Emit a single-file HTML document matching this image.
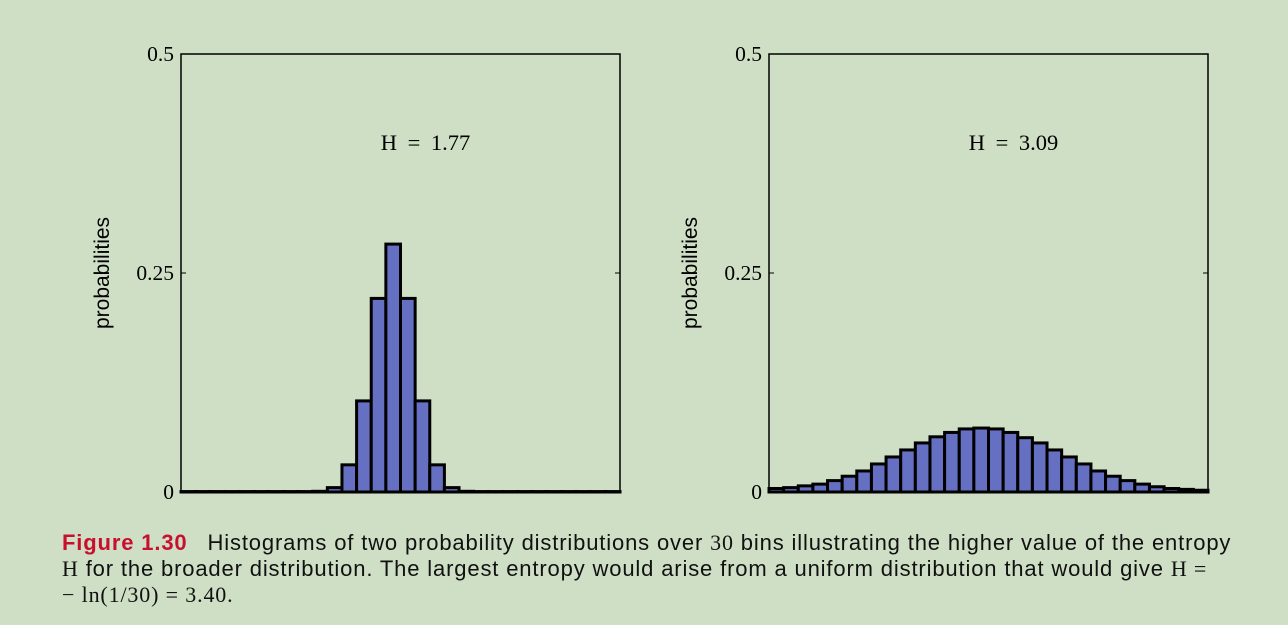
<!DOCTYPE html>
<html><head><meta charset="utf-8">
<style>
body{margin:0;background:#cfdfc5;width:1288px;height:625px;overflow:hidden;}
svg{position:absolute;left:0;top:0;}
.cap{position:absolute;left:62px;top:530px;white-space:nowrap;font-family:"Liberation Sans",sans-serif;font-size:22px;letter-spacing:0.85px;line-height:26px;color:#111;}
.cap b{color:#c8102e;margin-right:20px;}
.m{font-family:"Liberation Serif",serif;font-size:22px;}
</style></head><body>
<svg id="chart" width="1288" height="625"></svg>
<div class="cap"><b>Figure 1.30</b>Histograms of two probability distributions over <span class="m">30</span> bins illustrating the higher value of the entropy<br><span class="m">H</span> for the broader distribution. The largest entropy would arise from a uniform distribution that would give <span class="m">H =</span><br><span class="m">− ln(1/30) = 3.40.</span></div>
<script>
const leftValues=[0.0005,0.0005,0.0005,0.0005,0.0005,0.0005,0.0005,0.0005,0.0005,0.0008,0.005,0.031,0.104,0.221,0.283,0.221,0.104,0.031,0.005,0.0008,0.0005,0.0005,0.0005,0.0005,0.0005,0.0005,0.0005,0.0005,0.0005,0.0005];
const rightValues=[0.004,0.005,0.007,0.009,0.013,0.018,0.024,0.032,0.040,0.048,0.056,0.063,0.068,0.072,0.073,0.072,0.068,0.062,0.056,0.048,0.040,0.032,0.024,0.018,0.013,0.009,0.006,0.004,0.003,0.002];
const yTicks=[0,0.25,0.5];
const yTickLabels=["0","0.25","0.5"];
const entropyLabels=["H = 1.77","H = 3.09"];
const NS="http://www.w3.org/2000/svg";
const svg=document.getElementById('chart');
function mk(t,a){const e=document.createElementNS(NS,t);for(const k in a)e.setAttribute(k,a[k]);svg.appendChild(e);return e;}
const plotTop=54,plotBot=492;
function yS(v){return plotBot-(v/0.5)*(plotBot-plotTop);}
function drawPanel(x0,x1,vals,label,pi){
  const xS=i=>x0+(i/vals.length)*(x1-x0);
  let e=mk('rect',{x:x0,y:plotTop,width:x1-x0,height:plotBot-plotTop,fill:'none',stroke:'#000','stroke-width':1.5});
  
  
  yTicks.forEach((t,k)=>{
    const y=yS(t);
    let l=mk('line',{x1:x0,x2:x0+5,y1:y,y2:y,stroke:'#000','stroke-width':1});
    
    
    let r=mk('line',{x1:x1-5,x2:x1,y1:y,y2:y,stroke:'#000','stroke-width':1});
    
    
    let tx=mk('text',{x:x0-7,y:y+7,'text-anchor':'end','font-family':'Liberation Serif, serif','font-size':21.5});
    tx.textContent=yTickLabels[k];
    
    
  });
  vals.forEach((v,i)=>{
    const b=mk('rect',{x:xS(i),y:yS(v),width:xS(i+1)-xS(i),height:plotBot-yS(v),fill:'#6670c2',stroke:'#000','stroke-width':3});
    
    
  });
  let bl=mk('line',{x1:x0,x2:x1,y1:plotBot,y2:plotBot,stroke:'#000','stroke-width':3});
  
  
  let h=mk('text',{x:(x0+x1)/2+25,y:150,'text-anchor':'middle','font-family':'Liberation Serif, serif','font-size':22.5,'word-spacing':'5px'});
  h.textContent=label;
  
  
  let yt=mk('text',{x:0,y:0,'text-anchor':'middle','font-family':'Liberation Sans, sans-serif','font-size':21,transform:'translate('+(x0-72)+',273) rotate(-90)'});
  yt.textContent='probabilities';
  
  
}
drawPanel(181,620,leftValues,entropyLabels[0],0);
drawPanel(769,1208,rightValues,entropyLabels[1],1);
</script>
</body></html>
